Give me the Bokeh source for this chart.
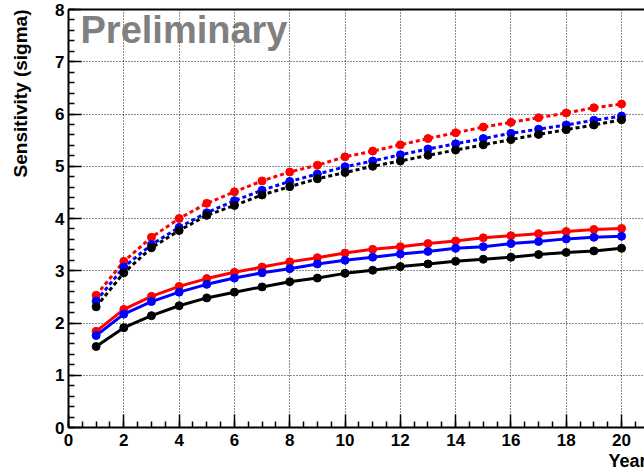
import math
from bokeh.plotting import figure
from bokeh.models import FixedTicker, Label, LinearAxis, Range1d, Title
from bokeh.embed import file_html
from bokeh.resources import INLINE

years = list(range(1, 21))

red_solid = [1.84, 2.26, 2.51, 2.70, 2.85, 2.97, 3.07, 3.17, 3.25, 3.34,
             3.41, 3.46, 3.52, 3.57, 3.63, 3.67, 3.71, 3.75, 3.79, 3.81]
blue_solid = [1.76, 2.17, 2.41, 2.59, 2.74, 2.86, 2.96, 3.04, 3.13, 3.20,
              3.26, 3.32, 3.37, 3.43, 3.46, 3.52, 3.56, 3.61, 3.64, 3.66]
black_solid = [1.55, 1.91, 2.14, 2.33, 2.48, 2.59, 2.69, 2.79, 2.86, 2.95,
               3.01, 3.08, 3.13, 3.18, 3.22, 3.26, 3.31, 3.35, 3.38, 3.43]

red_dotted = [2.53, 3.18, 3.64, 4.00, 4.29, 4.51, 4.72, 4.89, 5.02, 5.18,
              5.29, 5.41, 5.53, 5.64, 5.75, 5.84, 5.93, 6.02, 6.12, 6.19]
blue_dotted = [2.42, 3.07, 3.50, 3.83, 4.11, 4.34, 4.54, 4.71, 4.85, 4.99,
               5.10, 5.22, 5.33, 5.43, 5.53, 5.63, 5.71, 5.79, 5.88, 5.96]
black_dotted = [2.31, 2.96, 3.44, 3.77, 4.06, 4.25, 4.45, 4.61, 4.76, 4.88,
                5.00, 5.10, 5.21, 5.31, 5.41, 5.51, 5.61, 5.70, 5.79, 5.89]

x_major = list(range(0, 21, 2))
y_major = list(range(0, 9))

FONT = "Liberation Sans"

p = figure(width=644, height=472, output_backend="svg", toolbar_location=None,
           x_range=Range1d(0, 20.83), y_range=Range1d(0, 8),
           min_border_left=68, min_border_right=0, min_border_top=9,
           min_border_bottom=45, background_fill_color="white",
           border_fill_color="white", outline_line_color=None)

# axes styling
for ax in (p.xaxis[0], p.yaxis[0]):
    ax.axis_line_width = 2
    ax.axis_line_color = "black"
    ax.major_tick_in = 13
    ax.major_tick_out = 0
    ax.minor_tick_in = 6
    ax.minor_tick_out = 0
    ax.major_tick_line_width = 1.5
    ax.minor_tick_line_width = 1.5
    ax.major_label_text_font = FONT
    ax.major_label_text_font_style = "bold"
    ax.major_label_text_font_size = "17px"
    ax.major_label_text_color = "black"

p.xaxis[0].ticker = FixedTicker(ticks=x_major,
                                minor_ticks=[i * 0.5 for i in range(0, 42)])
p.yaxis[0].ticker = FixedTicker(ticks=y_major,
                                minor_ticks=[i * 0.2 for i in range(0, 41)])
p.xaxis[0].major_label_standoff = 6
p.yaxis[0].major_label_standoff = 4

# top border line
top = LinearAxis(axis_line_width=2, major_tick_line_color=None,
                 minor_tick_line_color=None, major_label_text_font_size="0px",
                 major_label_standoff=0)
top.ticker = FixedTicker(ticks=[])
p.add_layout(top, "above")

# grid
p.xgrid.ticker = FixedTicker(ticks=x_major[1:])
p.ygrid.ticker = FixedTicker(ticks=y_major[1:-1])
for g in (p.xgrid[0], p.ygrid[0]):
    g.grid_line_color = "black"
    g.grid_line_width = 1
    g.grid_line_dash = "1 2"
    g.grid_line_alpha = 0.9

series = [
    (red_dotted, "#ff0000", "4 3"),
    (blue_dotted, "#0000ff", "4 3"),
    (black_dotted, "#000000", "4 3"),
    (red_solid, "#ff0000", "solid"),
    (blue_solid, "#0000ff", "solid"),
    (black_solid, "#000000", "solid"),
]
for vals, col, dash in series:
    p.line(years, vals, line_color=col, line_width=3, line_dash=dash)
    p.scatter(years, vals, size=8, fill_color=col, line_color=col)

px_x = 27.65
px_y = 52.25

p.add_layout(Label(x=(80 - 68) / px_x, y=(427 - 29) / px_y, text="Preliminary",
                   text_font=FONT, text_font_style="bold", text_font_size="38px",
                   text_color="#808080", text_baseline="alphabetic"))

# spacer between the y axis and its title
spacer = Title(text=" ", text_font_size="1px", standoff=19)
p.add_layout(spacer, "left")

ytitle = Title(text="Sensitivity (sigma)", align="right",
               text_font=FONT, text_font_style="bold", text_font_size="19px",
               text_color="black", standoff=0, offset=0)
p.add_layout(ytitle, "left")

xtitle = Title(text="Years", align="left", offset=540,
               text_font=FONT, text_font_style="bold", text_font_size="18px",
               text_color="black", standoff=0)
p.add_layout(xtitle, "below")

open("out.html", "w").write(file_html(p, INLINE))
